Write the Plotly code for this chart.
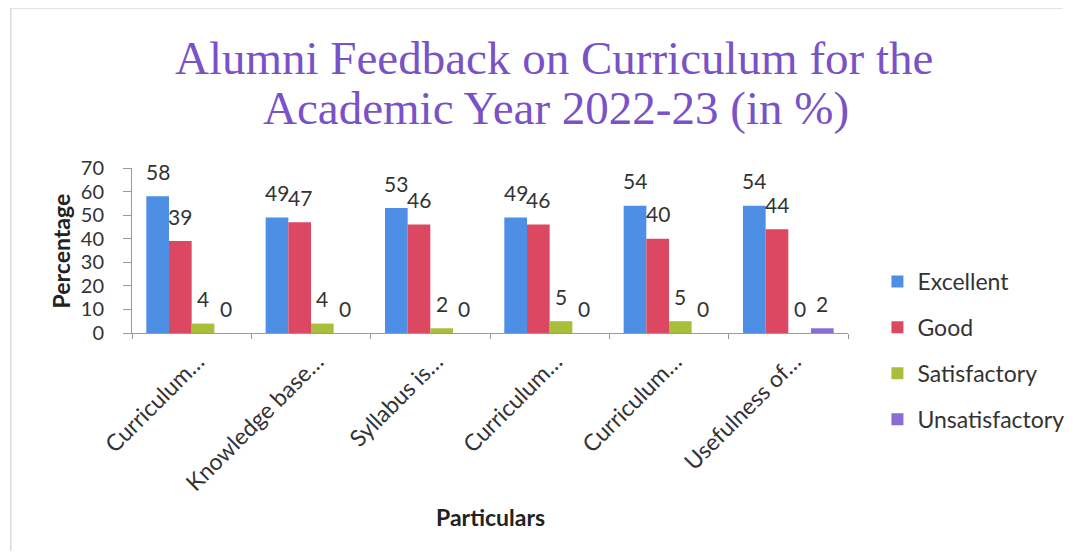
import plotly.graph_objects as go

categories = ["Curriculum…", "Knowledge base…", "Syllabus is…", "Curriculum…", "Curriculum…", "Usefulness of…"]
series_names = ["Excellent", "Good", "Satisfactory", "Unsatisfactory"]
excellent = [58, 49, 53, 49, 54, 54]
good = [39, 47, 46, 46, 40, 44]
satisfactory = [4, 4, 2, 5, 5, 0]
unsatisfactory = [0, 0, 0, 0, 0, 2]
y_ticks = [0, 10, 20, 30, 40, 50, 60, 70]

colors = ["#4D8FE4", "#DC4762", "#A8BF3C", "#8B6CD2"]
values = [excellent, good, satisfactory, unsatisfactory]
xpos = list(range(len(categories)))

FONT = "Lato, 'Open Sans', sans-serif"
BARGAP = 0.24

# figure is drawn inside the page body (8px margin), so use 1073x543
FW, FH = 1073, 543
L, R, T, B = 124, 854, 160, 325
W, H = R - L, B - T

fig = go.Figure()
for name, vals, col in zip(series_names, values, colors):
    fig.add_trace(go.Bar(
        x=xpos, y=vals, name=name, marker=dict(color=col, line=dict(width=0)),
        legendgroup=name,
    ))

# data labels placed above each bar (data coordinates, shifted in pixels)
n = len(series_names)
bw = (1 - BARGAP) / n
label_annots = []
for k, vals in enumerate(values):
    off = (k - (n - 1) / 2) * bw
    for i, v in zip(xpos, vals):
        label_annots.append(dict(
            text=str(v), x=i + off, y=v, xref="x", yref="y", showarrow=False,
            xanchor="center", yanchor="middle", yshift=25,
            font=dict(family=FONT, size=21, color="#333333")))

def px_x(x):
    return (x - L) / W

def px_y(y):
    return (B - y) / H

fig.update_layout(
    width=FW, height=FH,
    margin=dict(l=L, r=FW - R, t=T, b=FH - B),
    paper_bgcolor="white", plot_bgcolor="white",
    barmode="group", bargap=BARGAP, bargroupgap=0,
    showlegend=True,
    legend=dict(x=px_x(884), y=px_y(252), xanchor="left", yanchor="top",
                font=dict(family=FONT, size=23, color="#333333"), tracegroupgap=13,
                bgcolor="rgba(0,0,0,0)", itemwidth=30, maxheight=400),
    xaxis=dict(range=[-0.5, 5.5], tickvals=xpos, ticktext=categories, tickangle=-45,
               tickfont=dict(family=FONT, size=23, color="#333333"), ticks="",
               ticklabelshift=6, ticklabelstandoff=5,
               showline=True, linecolor="#9a9a9a", linewidth=1, showgrid=False, zeroline=False,
               minor=dict(tickvals=[i - 0.5 for i in range(len(categories) + 1)], ticks="outside",
                          ticklen=5, tickcolor="#9a9a9a", showgrid=False)),
    yaxis=dict(range=[0, 70], tickvals=y_ticks, ticks="outside", ticklen=8, tickcolor="#9a9a9a",
               tickfont=dict(family=FONT, size=20, color="#333333"), ticklabelstandoff=15,
               showline=True, linecolor="#9a9a9a", linewidth=1, showgrid=False, zeroline=False),
    annotations=label_annots + [
        dict(text="Alumni Feedback on Curriculum for the", x=px_x(554), y=px_y(50),
             xref="paper", yref="paper", showarrow=False, xanchor="center", yanchor="middle",
             font=dict(family="Liberation Serif, 'Times New Roman', serif", size=47, color="#7A52C7")),
        dict(text="Academic Year 2022-23 (in %)", x=px_x(556), y=px_y(100),
             xref="paper", yref="paper", showarrow=False, xanchor="center", yanchor="middle",
             font=dict(family="Liberation Serif, 'Times New Roman', serif", size=47, color="#7A52C7")),
        dict(text="<b>Particulars</b>", x=0.5, y=px_y(509), xref="paper", yref="paper",
             showarrow=False, font=dict(family=FONT, size=23, color="#222222"),
             xanchor="center", yanchor="middle"),
        dict(text="<b>Percentage</b>", x=px_x(52), y=px_y(243), xref="paper", yref="paper",
             showarrow=False, textangle=-90, font=dict(family=FONT, size=23, color="#222222"),
             xanchor="center", yanchor="middle"),
    ],
    shapes=[
        dict(type="line", xref="paper", yref="paper", x0=px_x(0.5), x1=px_x(FW), y0=px_y(0), y1=px_y(0),
             line=dict(color="#c8c8c8", width=1)),
        dict(type="line", xref="paper", yref="paper", x0=px_x(0.5), x1=px_x(0.5), y0=px_y(0), y1=px_y(FH),
             line=dict(color="#c8c8c8", width=1)),
    ],
)

fig.write_html("out.html")
